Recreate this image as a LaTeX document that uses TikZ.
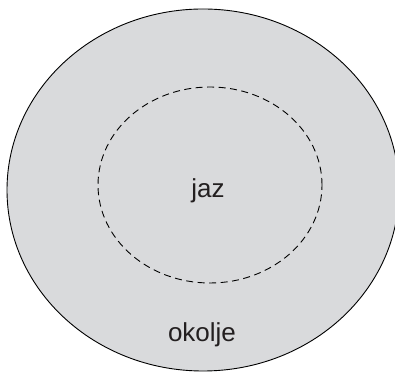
\documentclass[tikz,border=0pt]{standalone}
\usepackage{fontspec}
\setmainfont{Liberation Sans}
\definecolor{fillgray}{HTML}{D9DADC}
\definecolor{txt}{HTML}{231F20}
\begin{document}
\begin{tikzpicture}[x=1pt,y=1pt,
  lbl/.style={text=txt,font=\fontsize{26}{30}\selectfont,anchor=base,inner sep=0pt}]
\useasboundingbox (0,0) rectangle (395,371);
\clip (0,0) rectangle (395,371);
\draw[fill=fillgray,line width=0.9pt] (203,181) ellipse [x radius=196, y radius=181];
\draw[dash pattern=on 7pt off 4.5pt,line width=0.9pt] (210,186) ellipse [x radius=112, y radius=98];
\node[lbl] (jaz) at (208,173) {jaz};
\node[lbl] (okolje) at (202,29) {okolje};
\end{tikzpicture}
\end{document}
